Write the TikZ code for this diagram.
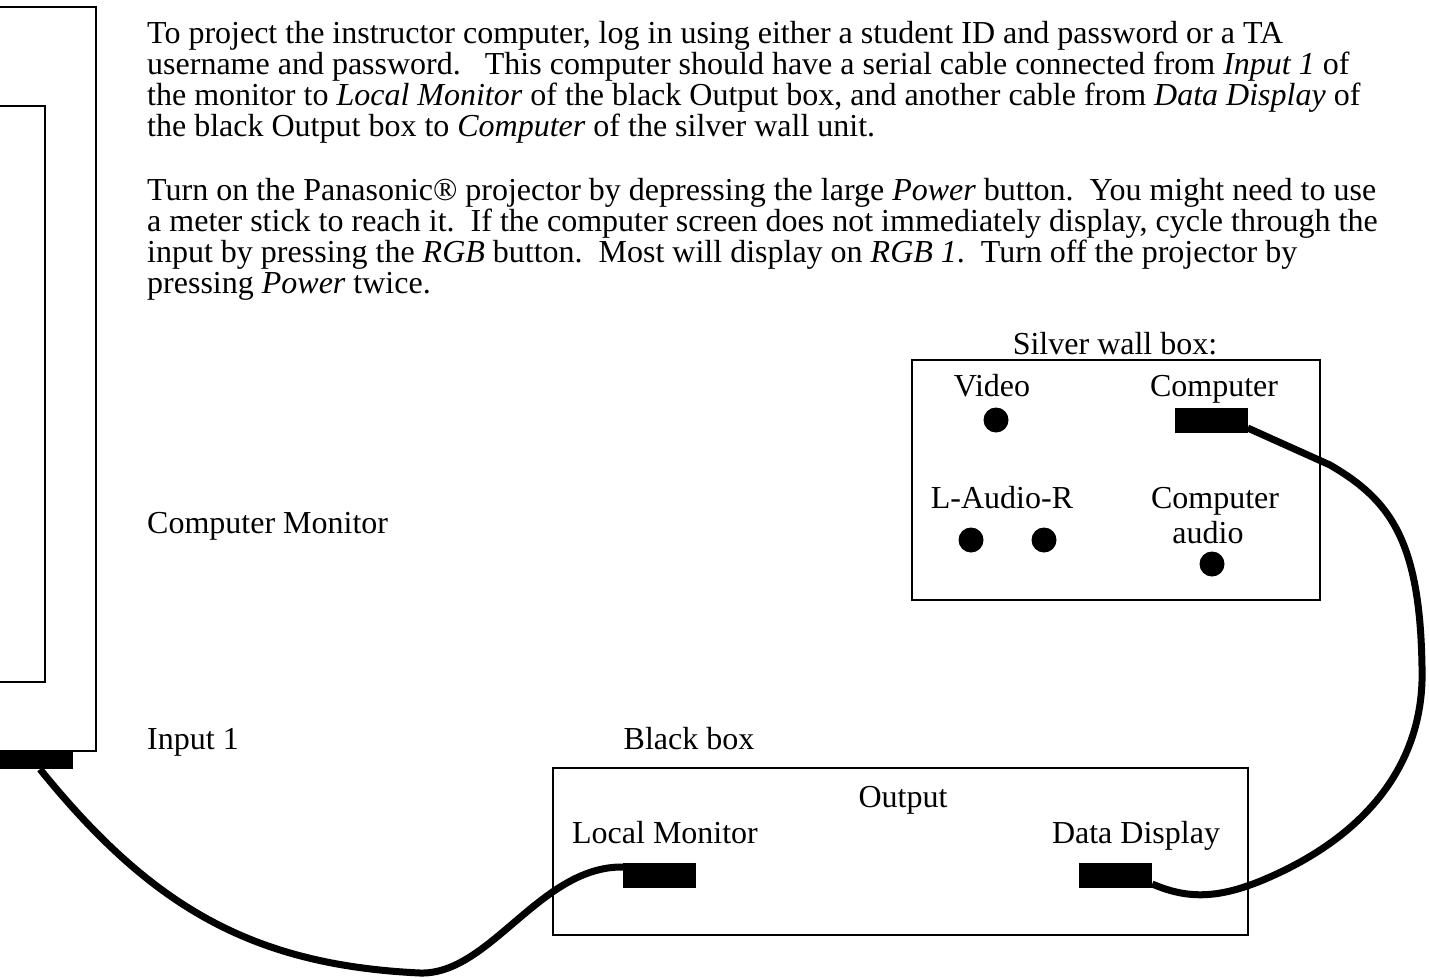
\documentclass[tikz,border=0pt]{standalone}
\usepackage{fontspec}
\setmainfont{Liberation Serif}
\begin{document}
\begin{tikzpicture}[x=1pt,y=-1pt,
  txt/.style={anchor=base west, inner sep=0pt, font=\fontsize{32}{32}\selectfont},
  ctxt/.style={anchor=base, inner sep=0pt, font=\fontsize{32}{32}\selectfont},
  frame/.style={draw=black, line width=2pt},
  plug/.style={fill=black, draw=none, inner sep=0pt, minimum width=73pt, minimum height=25pt},
  jack/.style={circle, fill=black, draw=none, inner sep=0pt, minimum size=25pt},
  cable/.style={draw=black, line width=7pt}]
\useasboundingbox (0,0) rectangle (1429,979);
% monitor
\draw[frame] (-10,7) -- (96,7) -- (96,751) -- (-10,751);
\draw[frame] (-10,106) -- (45,106) -- (45,682) -- (-10,682);
\node[plug, minimum width=90pt, minimum height=18pt] (mplug) at (28,760) {};
% paragraph 1
\node[txt] (p1) at (147,44) {To project the instructor computer, log in using either a student ID and password or a TA};
\node[txt] (p2) at (147,75) {username and password.\ \ \ This computer should have a serial cable connected from \textit{Input 1} of};
\node[txt] (p3) at (147,106) {the monitor to \textit{Local Monitor} of the black Output box, and another cable from \textit{Data Display} of};
\node[txt] (p4) at (147,137) {the black Output box to \textit{Computer} of the silver wall unit.};
% paragraph 2
\node[txt] (q1) at (147,200) {Turn on the Panasonic® projector by depressing the large \textit{Power} button.\ \ You might need to use};
\node[txt] (q2) at (147,231) {a meter stick to reach it.\ \ If the computer screen does not immediately display, cycle through the};
\node[txt] (q3) at (147,262) {input by pressing the \textit{RGB} button.\ \ Most will display on \textit{RGB 1}.\ \ Turn off the projector by};
\node[txt] (q4) at (147,293) {pressing \textit{Power} twice.};
% silver wall box
\node[ctxt] (swlabel) at (1115,354) {Silver wall box:};
\draw[frame] (912,360) rectangle (1320,600);
\node[ctxt] (video) at (992,396) {Video};
\node[ctxt] (comp) at (1214,396) {Computer};
\node[jack] (vjack) at (996,420) {};
\node[plug] (cplug) at (1211,420) {};
\node[ctxt] (laudio) at (1002,508) {L-Audio-R};
\node[jack] (ljack) at (971,540) {};
\node[jack] (rjack) at (1044,540) {};
\node[ctxt] (compa1) at (1215,508) {Computer};
\node[ctxt] (compa2) at (1208,543) {audio};
\node[jack] (ajack) at (1212,564) {};
% labels
\node[txt] (cmlabel) at (147,533) {Computer Monitor};
\node[txt] (in1) at (147,749) {Input 1};
\node[ctxt] (bblabel) at (689,749) {Black box};
% black box
\draw[frame] (553,768) rectangle (1248,935);
\node[ctxt] (output) at (903,807) {Output};
\node[ctxt] (lmlabel) at (665,843) {Local Monitor};
\node[ctxt] (ddlabel) at (1136,843) {Data Display};
\node[plug] (lplug) at (659.5,875) {};
\node[plug] (dplug) at (1115.5,875) {};
% cables
\draw[cable] ([xshift=12pt]mplug.south) .. controls (150,905) and (250,965) .. (420,973)
  .. controls (490,975) and (540,866) .. ([yshift=8pt]lplug.west);
\draw[cable] ([yshift=-9pt]dplug.east) .. controls (1185,898) and (1215,900) .. (1263,880)
  .. controls (1370,835) and (1425,760) .. (1422,667)
  .. controls (1420,540) and (1390,500) .. (1330,465) -- ([yshift=-8pt]cplug.east);
\end{tikzpicture}
\end{document}
